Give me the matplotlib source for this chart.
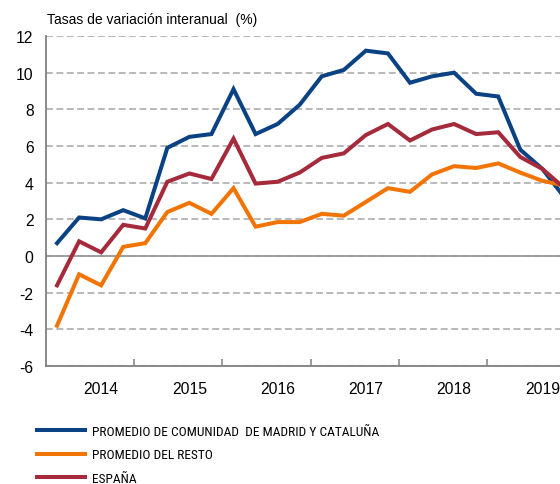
import matplotlib
matplotlib.use("Agg")
import matplotlib.pyplot as plt
import numpy as np

# quarterly year-on-year rates (%), 2014Q1 .. 2019Q4
madrid_cat = [0.7, 2.1, 2.0, 2.5, 2.05, 5.9, 6.5, 6.65, 9.1, 6.65, 7.2, 8.25,
              9.8, 10.15, 11.2, 11.05, 9.45, 9.8, 10.0, 8.85, 8.7, 5.8, 4.75, 3.2]
resto = [-3.8, -1.0, -1.6, 0.5, 0.7, 2.4, 2.9, 2.3, 3.7, 1.6, 1.85, 1.85,
         2.3, 2.2, 2.95, 3.7, 3.5, 4.45, 4.9, 4.8, 5.05, 4.55, 4.1, 3.85]
espana = [-1.6, 0.8, 0.2, 1.7, 1.5, 4.05, 4.5, 4.2, 6.4, 3.95, 4.05, 4.55,
          5.35, 5.6, 6.6, 7.2, 6.3, 6.9, 7.2, 6.65, 6.75, 5.4, 4.75, 3.7]
years = ["2014", "2015", "2016", "2017", "2018", "2019"]
series_names = ["PROMEDIO DE COMUNIDAD  DE MADRID Y CATALUÑA",
                "PROMEDIO DEL RESTO", "ESPAÑA"]

plt.rcParams["font.family"] = ["Liberation Sans", "DejaVu Sans"]
plt.rcParams["axes.unicode_minus"] = False
narrow = ["Liberation Sans Narrow", "Roboto Condensed", "Liberation Sans"]

q = np.arange(len(madrid_cat))

fig = plt.figure(figsize=(5.6, 4.85), dpi=100)
ax = fig.add_axes([46 / 560, 1 - 367 / 485, 1 - 46 / 560, 330 / 485])

colors = ["#0B4283", "#F27405", "#A52A3C"]
lines = []
for vals, c in zip([madrid_cat, resto, espana], colors):
    ln, = ax.plot(q, vals, color=c, lw=2.9, zorder=3, solid_joinstyle="miter")
    lines.append(ln)

# year boundaries as tick marks, labels in between
ax.set_xticks(np.arange(3.5, len(q) + 1, 4))
ax.set_xticklabels([])
ax.set_xticks(np.arange(2, len(q), 4), minor=True)
ax.set_xticklabels(years, minor=True)
ax.tick_params(axis="x", which="major", direction="in", length=5, width=1.1,
               color="#808080")
ax.tick_params(axis="x", which="minor", length=0, pad=11, labelsize=11.3)
ax.tick_params(axis="y", length=0, pad=9, labelsize=11.3)

ax.set_yticks(np.arange(-6, 13, 2))
ax.set_ylim(-6, 12)
ax.set_xlim(-0.5, 22.8)  # chart is cut at the right edge

ax.grid(axis="y", color="#A6A6A6", lw=1.1, linestyle=(0, (4.5, 2.3)), zorder=1)
ax.set_axisbelow(True)
ax.axhline(0, color="#9A9A9A", lw=1.3, zorder=2)

for s in ["top", "right"]:
    ax.spines[s].set_visible(False)
for s in ["left", "bottom"]:
    ax.spines[s].set_color("#808080")
    ax.spines[s].set_linewidth(1.3)

fig.text(47 / 560, 1 - 24 / 485, "Tasas de variación interanual  (%)",
         fontsize=10.0, va="baseline", ha="left")

fig.legend(lines, series_names, loc="upper left",
           bbox_to_anchor=(37 / 560, 1 - 426 / 485), frameon=False,
           borderpad=0, borderaxespad=0, handlelength=3.6, handletextpad=0.55,
           labelspacing=0.78, prop={"family": narrow, "size": 9.6})

fig.savefig("out.png")
